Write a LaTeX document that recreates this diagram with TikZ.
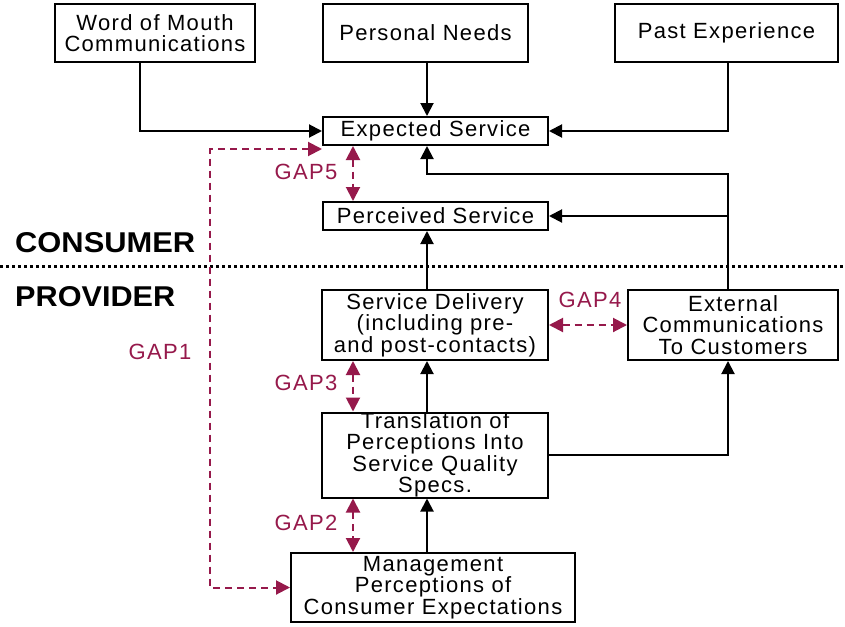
\documentclass[tikz,border=0pt]{standalone}
\usepackage{fontspec}
\usetikzlibrary{arrows.meta}
\setmainfont{Liberation Sans}
\newfontfamily\mainfnt[LetterSpace=6]{Liberation Sans}
\definecolor{gapc}{RGB}{150,25,75}
\tikzset{
  box/.style={draw, line width=2pt, inner sep=0pt, align=center,
    font=\mainfnt\fontsize{22}{21.5}\selectfont},
  arr/.style={line width=2pt, -{Triangle[length=13pt,width=13pt]}},
  gap/.style={draw=gapc, line width=2pt, dash pattern=on 7pt off 5pt},
  gtip/.tip={Triangle[length=14pt,width=14pt,color=gapc]},
  lbl/.style={text=gapc, inner sep=0pt, font=\mainfnt\fontsize{22}{22}\selectfont},
  side/.style={inner sep=0pt, anchor=south west}
}
\begin{document}
\begin{tikzpicture}[x=1pt,y=-1pt]
\useasboundingbox[fill=white] (0,0) rectangle (845,626);
% boxes
\node[box, minimum width=200pt, minimum height=58pt] (wom) at (155,33) {Word of Mouth\\Communications};
\node[box, minimum width=205pt, minimum height=58pt] (pn) at (425.5,33) {Personal Needs};
\node[box, minimum width=223pt, minimum height=58pt] (pe) at (726.5,33) {Past Experience};
\node[box, minimum width=225pt, minimum height=28pt] (es) at (435.5,131) {Expected Service};
\node[box, minimum width=225pt, minimum height=28pt] (ps) at (435.5,216) {Perceived Service};
\node[box, minimum width=226pt, minimum height=70pt] (sd) at (435,325) {Service Delivery\\(including pre-\\and post-contacts)};
\node[box, minimum width=210pt, minimum height=70pt] (ec) at (733,325) {External\\Communications\\To Customers};
\node[box, minimum width=226pt, minimum height=84pt] (tr) at (435,455) {Translation of\\Perceptions Into\\Service Quality\\Specs.};
\node[box, minimum width=284pt, minimum height=69pt] (mg) at (433,587.5) {Management\\Perceptions of\\Consumer Expectations};
% side labels
\node[side] (cons) at (15,253) {\resizebox{180pt}{20pt}{\bfseries CONSUMER}};
\node[side] (prov) at (15,307) {\resizebox{160pt}{20pt}{\bfseries PROVIDER}};
\coordinate (dl) at (0,266);
\coordinate (dr) at (845,266);
\draw[line width=3pt, dash pattern=on 3pt off 3pt] (dl) -- (dr);
% axes
\coordinate (ax) at (427,0);
\coordinate (rx) at (728,0);
\coordinate (gx) at (353,0);
\coordinate (j1) at (728,174);
% black connectors
\draw[arr] ([xshift=-15pt]wom.south) |- (es.west);
\draw[arr] (pn.south -| ax) -- (es.north -| ax);
\draw[arr] (pe.south -| rx) |- (es.east);
\draw[arr] (ec.north -| rx) -- (j1) -| (es.south -| ax);
\draw[arr] (ps.east -| rx) -- (ps.east);
\draw[arr] (sd.north -| ax) -- (ps.south -| ax);
\draw[arr] (tr.north -| ax) -- (sd.south -| ax);
\draw[arr] (mg.north -| ax) -- (tr.south -| ax);
\draw[arr] (tr.east) -| (ec.south -| rx);
% gaps
\draw[gap, gtip-gtip] (es.south -| gx) -- (ps.north -| gx);
\draw[gap, gtip-gtip] (sd.south -| gx) -- (tr.north -| gx);
\draw[gap, gtip-gtip] (tr.south -| gx) -- (mg.north -| gx);
\draw[gap, gtip-gtip] (sd.east) -- (ec.west);
\draw[gap, gtip-gtip] ([yshift=-3pt]es.south west) -- ++(-112,0) |- (mg.west);
\node[lbl] (g5) at (306,172) {GAP5};
\node[lbl] (g4) at (590,300) {GAP4};
\node[lbl] (g3) at (306,383) {GAP3};
\node[lbl] (g2) at (306,523) {GAP2};
\node[lbl] (g1) at (160,352) {GAP1};
\end{tikzpicture}
\end{document}
